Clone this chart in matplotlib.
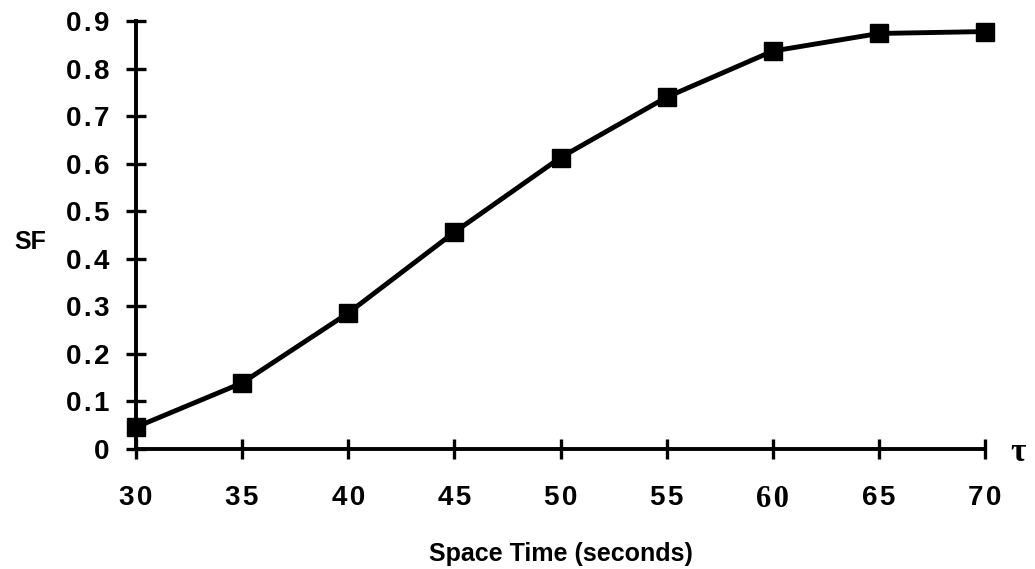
import matplotlib
matplotlib.use("Agg")
import matplotlib.pyplot as plt

space_time = [30, 35, 40, 45, 50, 55, 60, 65, 70]
sf_values = [0.046, 0.139, 0.286, 0.456, 0.613, 0.74, 0.837, 0.874, 0.878]
x_ticks = [30, 35, 40, 45, 50, 55, 60, 65, 70]
x_tick_labels = ["30", "35", "40", "45", "50", "55", "60", "65", "70"]
y_ticks = [0, 0.1, 0.2, 0.3, 0.4, 0.5, 0.6, 0.7, 0.8, 0.9]
y_tick_labels = ["0", "0.1", "0.2", "0.3", "0.4", "0.5", "0.6", "0.7", "0.8", "0.9"]

HS = "\u200a"  # hair space, mimics the wide letter spacing


def spaced(s):
    return HS.join(s)


fig = plt.figure(figsize=(10.35, 5.69), dpi=100)
ax = fig.add_axes([0.1314, 0.2109, 0.8203, 0.752])

ax.plot(space_time, sf_values, color="black", linewidth=3.5, marker="s",
        markersize=13, markerfacecolor="black", markeredgecolor="black",
        clip_on=False, zorder=3)

ax.set_xlim(30, 70)
ax.set_ylim(0, 0.9)
ax.set_xticks(x_ticks)
ax.set_xticklabels([spaced(t) for t in x_tick_labels])
ax.set_yticks(y_ticks)
ax.set_yticklabels([spaced(t) for t in y_tick_labels])

for s in ["top", "right"]:
    ax.spines[s].set_visible(False)
for s in ["left", "bottom"]:
    ax.spines[s].set_linewidth(2.8)
    ax.spines[s].set_color("black")

ax.tick_params(axis="both", direction="inout", length=14, width=2.4, colors="black")
ax.tick_params(axis="x", pad=19)
ax.tick_params(axis="y", pad=12)

for lbl in ax.get_xticklabels() + ax.get_yticklabels():
    lbl.set_fontfamily("Liberation Sans")
    lbl.set_fontweight("bold")
    lbl.set_fontsize(20)

# The "60" label is set in a serif face in the original
for lbl, txt in zip(ax.get_xticklabels(), x_tick_labels):
    if txt == "60":
        lbl.set_fontfamily("Liberation Serif")
        lbl.set_fontsize(22)

ax.set_xlabel("Space Time (seconds)", fontfamily="Liberation Sans",
              fontweight="bold", fontsize=18, labelpad=20)
ax.set_ylabel("SF", fontfamily="Liberation Sans", fontweight="bold",
              fontsize=18, rotation=0, ha="center", va="center")
ax.yaxis.set_label_coords(-0.125, 0.484)

ax.annotate("τ", xy=(1.039, -0.008), xycoords="axes fraction", ha="center",
            va="center", fontfamily="Liberation Serif", fontweight="bold",
            fontsize=24, annotation_clip=False)

fig.savefig("out.png", dpi=100)
